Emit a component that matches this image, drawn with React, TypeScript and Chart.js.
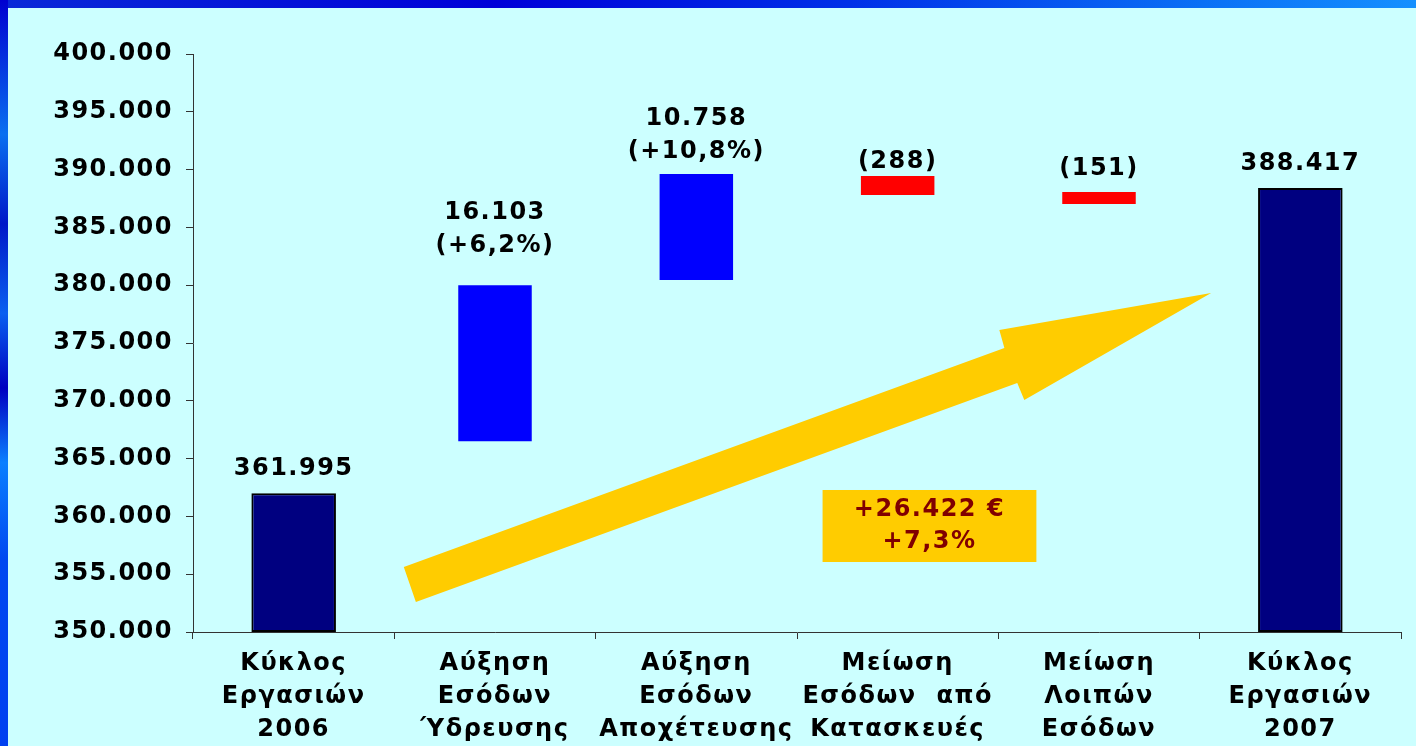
import React, { useEffect, useRef } from "react";
import { Chart, registerables } from "chart.js";

Chart.register(...registerables);

// ---- data ----
const categories: string[][] = [
  ["Κύκλος", "Εργασιών", "2006"],
  ["Αύξηση", "Εσόδων", "Ύδρευσης"],
  ["Αύξηση", "Εσόδων", "Αποχέτευσης"],
  ["Μείωση", "Εσόδων  από", "Κατασκευές"],
  ["Μείωση", "Λοιπών", "Εσόδων"],
  ["Κύκλος", "Εργασιών", "2007"],
];

// total bars (start, end)
const totalStart: (number | null)[] = [350000, null, null, null, null, 350000];
const totalEnd: (number | null)[] = [361995, null, null, null, null, 388417];

// change bars (start, end) as drawn in the picture
const changeStart: (number | null)[] = [null, 366500, 380450, 387800, 387020, null];
const changeEnd: (number | null)[] = [null, 380000, 389620, 389450, 388060, null];
const changeColors: string[] = ["#0000FF", "#0000FF", "#0000FF", "#FF0000", "#FF0000", "#FF0000"];

const valueLabels: string[][] = [
  ["361.995"],
  ["16.103", "(+6,2%)"],
  ["10.758", "(+10,8%)"],
  ["(288)"],
  ["(151)"],
  ["388.417"],
];

const yMin = 350000;
const yMax = 400000;
const yStep = 5000;

const summaryLines: string[] = ["+26.422 €", "+7,3%"];

// ---- layout / decoration (not data) ----
const labelLift: number[] = [0, 14, -3, -11, -2, -1];
const arrowShape: [number, number][] = [
  [0.547, 355623],
  [3.53, 374567],
  [3.505, 376125],
  [4.557, 379325],
  [3.629, 370069],
  [3.594, 371540],
  [0.607, 352595],
];
const summaryBox = { x0: 2.627, x1: 3.689, yTop: 362284, yBottom: 356055 };

const FONT = "'DejaVu Sans', Verdana, sans-serif";
const SPACING = "1.5px";

function fmt(v: number): string {
  return String(Math.round(v)).replace(/\B(?=(\d{3})+(?!\d))/g, ".");
}

const bgPlugin = {
  id: "bgFill",
  beforeDraw(chart: any) {
    const { ctx, width, height } = chart;
    (ctx as any).letterSpacing = SPACING;
    ctx.save();
    ctx.fillStyle = "#CCFFFF";
    ctx.fillRect(0, 0, width, height);
    ctx.restore();
  },
  beforeLayout(chart: any) {
    (chart.ctx as any).letterSpacing = SPACING;
  },
};

const decoPlugin = {
  id: "deco",
  afterDatasetsDraw(chart: any) {
    const { ctx } = chart;
    const xs = chart.scales.x;
    const ys = chart.scales.y;
    const px = (i: number) => {
      const w = xs.getPixelForValue(1) - xs.getPixelForValue(0);
      return xs.getPixelForValue(0) + i * w;
    };
    ctx.save();
    (ctx as any).letterSpacing = SPACING;
    // arrow
    ctx.fillStyle = "#FFCC00";
    ctx.beginPath();
    arrowShape.forEach(([i, v], k) => {
      const x = px(i);
      const y = ys.getPixelForValue(v);
      if (k === 0) ctx.moveTo(x, y);
      else ctx.lineTo(x, y);
    });
    ctx.closePath();
    ctx.fill();

    // summary box
    const bx0 = px(summaryBox.x0);
    const bx1 = px(summaryBox.x1);
    const by0 = ys.getPixelForValue(summaryBox.yTop);
    const by1 = ys.getPixelForValue(summaryBox.yBottom);
    ctx.fillStyle = "#FFCC00";
    ctx.fillRect(bx0, by0, bx1 - bx0, by1 - by0);
    ctx.fillStyle = "#800000";
    ctx.font = `bold 24px ${FONT}`;
    ctx.textAlign = "center";
    ctx.textBaseline = "middle";
    const cx = (bx0 + bx1) / 2;
    const cy = (by0 + by1) / 2;
    summaryLines.forEach((t, k) => {
      ctx.fillText(t, cx, cy + (k - (summaryLines.length - 1) / 2) * 32);
    });

    // value labels
    ctx.fillStyle = "#000000";
    valueLabels.forEach((lines, i) => {
      const top = Math.max(
        totalEnd[i] ?? -Infinity,
        changeEnd[i] ?? -Infinity
      );
      const yTop = ys.getPixelForValue(top);
      const x = xs.getPixelForValue(i);
      lines.forEach((t, k) => {
        const y = yTop - 25 - labelLift[i] - (lines.length - 1 - k) * 33;
        ctx.fillText(t, x, y);
      });
    });
    ctx.restore();
  },
};

export default function App() {
  const ref = useRef<HTMLCanvasElement | null>(null);

  useEffect(() => {
    if (!ref.current) return;
    const ctx0 = ref.current.getContext("2d") as any;
    if (ctx0) ctx0.letterSpacing = SPACING;
    const chart = new Chart(ref.current, {
      type: "bar",
      data: {
        labels: categories,
        datasets: [
          {
            label: "Σύνολο",
            data: totalStart.map((s, i) => (s === null ? null : [s, totalEnd[i] as number])) as any,
            backgroundColor: "#000080",
            borderColor: "#000000",
            borderWidth: 2,
            borderSkipped: false,
            barPercentage: 0.42,
            categoryPercentage: 1,
            grouped: false,
          },
          {
            label: "Μεταβολή",
            data: changeStart.map((s, i) => (s === null ? null : [s, changeEnd[i] as number])) as any,
            backgroundColor: changeColors,
            borderWidth: 0,
            barPercentage: 0.365,
            categoryPercentage: 1,
            grouped: false,
          },
        ],
      },
      options: {
        animation: false,
        responsive: false,
        layout: { padding: { top: 46, right: 15, bottom: 0, left: 0 } },
        plugins: {
          legend: { display: false },
          tooltip: { enabled: false },
          title: { display: false },
        },
        scales: {
          x: {
            grid: {
              drawOnChartArea: false,
              drawTicks: true,
              tickLength: 7,
              color: "#333333",
              offset: true,
            },
            border: { display: true, color: "#333333", width: 1 },
            ticks: {
              autoSkip: false,
              maxRotation: 0,
              minRotation: 0,
              color: "#000000",
              padding: 8,
              font: { family: FONT, size: 24, weight: "bold", lineHeight: 1.38 },
            },
            afterFit(scale: any) {
              scale.height = 114;
            },
          },
          y: {
            min: yMin,
            max: yMax,
            grid: {
              drawOnChartArea: false,
              drawTicks: true,
              tickLength: 7,
              color: "#333333",
            },
            border: { display: true, color: "#333333", width: 1 },
            ticks: {
              stepSize: yStep,
              color: "#000000",
              padding: 13,
              font: { family: FONT, size: 24, weight: "bold" },
              callback: (v: any) => fmt(Number(v)),
            },
            afterFit(scale: any) {
              scale.width = 185;
            },
          },
        },
      },
      plugins: [bgPlugin, decoPlugin],
    });
    return () => chart.destroy();
  }, []);

  return (
    <div
      style={{
        position: "absolute",
        left: 0,
        top: 0,
        width: 1416,
        height: 746,
        overflow: "hidden",
        background: "linear-gradient(90deg, #0a2ad8 0%, #0000d8 35%, #0030e8 60%, #0a70f5 85%, #1590ff 100%)",
      }}
    >
      <div
        style={{
          position: "absolute",
          left: 0,
          top: 0,
          width: 8,
          height: 746,
          background:
            "linear-gradient(180deg, #0000d0 0%, #0a70f0 18%, #0018c8 30%, #0a60f0 42%, #0000c0 52%, #0a80ff 62%, #0048f0 75%, #0040f0 100%)",
        }}
      />
      <canvas
        ref={ref}
        width={1408}
        height={738}
        style={{ position: "absolute", left: 8, top: 8, width: 1408, height: 738 }}
      />
    </div>
  );
}
